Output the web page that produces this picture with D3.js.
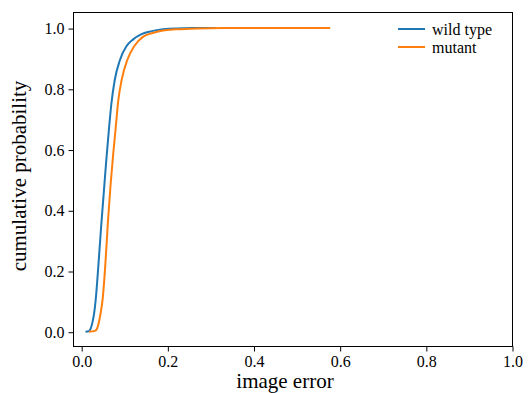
<!DOCTYPE html>
<html>
<head>
<meta charset="utf-8">
<script src="https://cdn.jsdelivr.net/npm/d3@7"></script>
<style>
  html, body { margin: 0; padding: 0; background: #fff; }
  svg { display: block; }
</style>
</head>
<body>
<svg id="chart" width="531" height="393"></svg>
<script>
// ---- data ----
const wildX = [0.010, 0.018, 0.022, 0.026, 0.030, 0.034, 0.040, 0.046, 0.052, 0.058, 0.064, 0.070, 0.078, 0.090, 0.105, 0.120, 0.140, 0.164, 0.190, 0.220, 0.260, 0.313];
const wildP = [0.000, 0.002, 0.010, 0.030, 0.060, 0.110, 0.220, 0.340, 0.450, 0.560, 0.660, 0.750, 0.830, 0.895, 0.940, 0.962, 0.980, 0.990, 0.996, 0.999, 1.000, 1.000];
const mutX = [0.018, 0.030, 0.036, 0.040, 0.045, 0.050, 0.056, 0.062, 0.068, 0.074, 0.080, 0.086, 0.094, 0.107, 0.123, 0.144, 0.164, 0.190, 0.220, 0.270, 0.330, 0.578];
const mutP = [0.000, 0.002, 0.008, 0.025, 0.060, 0.110, 0.220, 0.360, 0.480, 0.580, 0.670, 0.760, 0.830, 0.895, 0.940, 0.972, 0.983, 0.992, 0.996, 0.999, 1.000, 1.000];
const seriesNames = ["wild type", "mutant"];
const seriesColors = ["#1f77b4", "#ff7f0e"];
const xTicks = [0.0, 0.2, 0.4, 0.6, 0.8, 1.0];
const yTicks = [0.0, 0.2, 0.4, 0.6, 0.8, 1.0];

// ---- layout ----
const FONT = "'Liberation Serif', 'Times New Roman', serif";
const L = 73, R = 512, T = 12, B = 346;
const svg = d3.select("#chart");
const x = d3.scaleLinear().domain([-0.019, 1.0]).range([L, R]);
const y = d3.scaleLinear().domain([-0.047, 1.053]).range([B, T]);

const series = [
  wildX.map((v, i) => [v, wildP[i]]),
  mutX.map((v, i) => [v, mutP[i]])
];

const line = d3.line()
  .x(d => x(d[0]))
  .y(d => y(d[1]))
  .curve(d3.curveMonotoneX);

const g = svg.append("g");
series.forEach((s, i) => {
  g.append("path")
    .attr("d", line(s))
    .attr("fill", "none")
    .attr("stroke", seriesColors[i])
    .attr("stroke-width", 2);
});

// frame
svg.append("rect")
  .attr("x", L + 0.5).attr("y", T + 0.5)
  .attr("width", R - L).attr("height", B - T)
  .attr("fill", "none").attr("stroke", "#000").attr("stroke-width", 1);

// axes
const xAxis = d3.axisBottom(x).tickValues(xTicks).tickFormat(d3.format(".1f")).tickSize(5).tickPadding(4);
const yAxis = d3.axisLeft(y).tickValues(yTicks).tickFormat(d3.format(".1f")).tickSize(5).tickPadding(4);

const gx = svg.append("g").attr("transform", `translate(0.5,${B + 0.5})`).call(xAxis);
const gy = svg.append("g").attr("transform", `translate(${L + 0.5},0.5)`).call(yAxis);
[gx, gy].forEach(a => {
  a.attr("font-family", FONT).attr("font-size", 16);
  a.select(".domain").remove();
  a.selectAll("line").attr("stroke", "#000");
  a.selectAll("text").attr("font-family", FONT).attr("font-size", 16).attr("fill", "#000");
});

// axis labels
svg.append("text")
  .attr("x", 285).attr("y", 388)
  .attr("text-anchor", "middle")
  .attr("font-family", FONT)
  .attr("font-size", 21)
  .text("image error");

svg.append("text")
  .attr("transform", `translate(26,176) rotate(-90)`)
  .attr("text-anchor", "middle")
  .attr("font-family", FONT)
  .attr("font-size", 21)
  .text("cumulative probability");

// legend
const legY = [29, 47];
seriesNames.forEach((name, i) => {
  svg.append("line")
    .attr("x1", 398).attr("x2", 425)
    .attr("y1", legY[i]).attr("y2", legY[i])
    .attr("stroke", seriesColors[i]).attr("stroke-width", 2);
  svg.append("text")
    .attr("x", 432).attr("y", legY[i])
    .attr("dominant-baseline", "central")
    .attr("font-family", FONT)
    .attr("font-size", 16)
    .text(name);
});
</script>
</body>
</html>
